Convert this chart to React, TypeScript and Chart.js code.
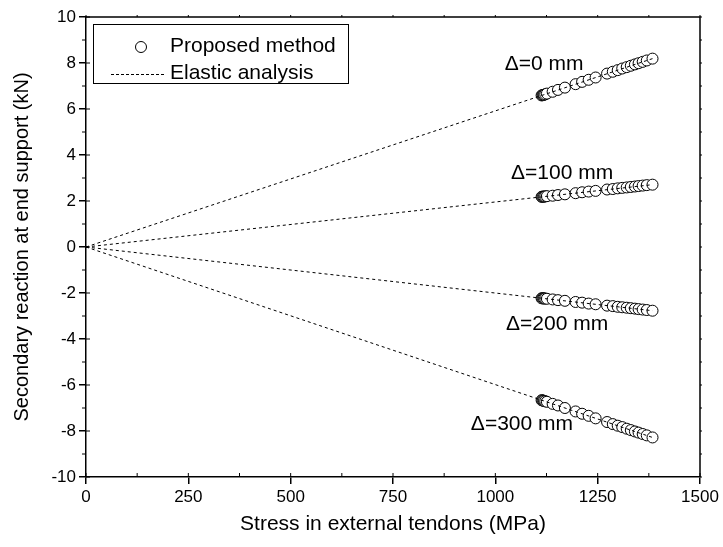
import { useEffect, useRef } from "react";
import { Chart, registerables } from "chart.js";

Chart.register(...registerables);

// Tendon stress levels (MPa) at which the secondary reaction was computed
const stress = [1113, 1115, 1117, 1119, 1122, 1126, 1140, 1153, 1170, 1196, 1212, 1228, 1245, 1273, 1287, 1299, 1310, 1321, 1331, 1341, 1350, 1360, 1370, 1384];

// Secondary reaction at end support (kN), proposed method, one array per settlement
const reactionD0 = [6.59, 6.6, 6.61, 6.62, 6.64, 6.67, 6.75, 6.83, 6.93, 7.08, 7.18, 7.27, 7.37, 7.54, 7.62, 7.69, 7.76, 7.82, 7.88, 7.94, 7.99, 8.05, 8.11, 8.19];
const reactionD100 = [2.18, 2.19, 2.19, 2.19, 2.2, 2.21, 2.23, 2.26, 2.29, 2.34, 2.38, 2.41, 2.44, 2.5, 2.52, 2.55, 2.57, 2.59, 2.61, 2.63, 2.65, 2.67, 2.69, 2.71];
const reactionD200 = [-2.23, -2.23, -2.23, -2.24, -2.24, -2.25, -2.28, -2.31, -2.34, -2.39, -2.42, -2.46, -2.49, -2.55, -2.57, -2.6, -2.62, -2.64, -2.66, -2.68, -2.7, -2.72, -2.74, -2.77];
const reactionD300 = [-6.66, -6.67, -6.68, -6.69, -6.71, -6.73, -6.82, -6.89, -7.0, -7.15, -7.25, -7.34, -7.45, -7.61, -7.7, -7.77, -7.83, -7.9, -7.96, -8.02, -8.07, -8.13, -8.19, -8.28];

// Elastic analysis: straight lines from the origin to the end stress
const elasticStress = [0, 1384];
const elasticD0 = [0, 8.19];
const elasticD100 = [0, 2.71];
const elasticD200 = [0, -2.77];
const elasticD300 = [0, -8.28];

// Settlement labels and their anchor (data coordinates)
const deltaLabels = ["\u0394=0 mm", "\u0394=100 mm", "\u0394=200 mm", "\u0394=300 mm"];
const deltaLabelX = [1119, 1163, 1151, 1065];
const deltaLabelY = [7.96, 3.2, -3.35, -7.7];

const legendLabels = ["Proposed method", "Elastic analysis"];

const xTicks = [0, 250, 500, 750, 1000, 1250, 1500];
const yTicks = [-10, -8, -6, -4, -2, 0, 2, 4, 6, 8, 10];

const FONT = "'Liberation Sans', Arial, sans-serif";

const toPoints = (xs: number[], ys: number[]) => xs.map((x, i) => ({ x, y: ys[i] }));

const overlayPlugin = {
  id: "overlay",
  afterDraw(chart: any) {
    const { ctx, chartArea: a, scales } = chart;
    const xs = scales.x;
    const ys = scales.y;
    ctx.save();
    ctx.strokeStyle = "#000";
    ctx.fillStyle = "#000";

    // frame: top and right edges
    ctx.lineWidth = 1.5;
    ctx.beginPath();
    ctx.moveTo(a.left, a.top);
    ctx.lineTo(a.right, a.top);
    ctx.lineTo(a.right, a.bottom);
    ctx.stroke();

    // inner part of the major ticks, minor ticks, and small ticks on the top/right edges
    ctx.lineWidth = 1;
    ctx.beginPath();
    yTicks.forEach((v) => {
      const py = ys.getPixelForValue(v);
      ctx.moveTo(a.left, py);
      ctx.lineTo(a.left + 4, py);
      ctx.moveTo(a.right, py);
      ctx.lineTo(a.right + 2, py);
    });
    xTicks.forEach((v) => {
      const px = xs.getPixelForValue(v);
      ctx.moveTo(px, a.bottom);
      ctx.lineTo(px, a.bottom - 4);
      ctx.moveTo(px, a.top);
      ctx.lineTo(px, a.top - 2);
    });
    for (let i = 0; i < yTicks.length - 1; i++) {
      const py = ys.getPixelForValue((yTicks[i] + yTicks[i + 1]) / 2);
      ctx.moveTo(a.left - 4, py);
      ctx.lineTo(a.left, py);
      ctx.moveTo(a.right, py);
      ctx.lineTo(a.right + 2, py);
    }
    for (let i = 0; i < xTicks.length - 1; i++) {
      const px = xs.getPixelForValue((xTicks[i] + xTicks[i + 1]) / 2);
      ctx.moveTo(px, a.bottom);
      ctx.lineTo(px, a.bottom - 4);
      ctx.moveTo(px, a.top);
      ctx.lineTo(px, a.top - 2);
    }
    ctx.stroke();

    // settlement labels
    ctx.font = `21px ${FONT}`;
    ctx.textAlign = "center";
    ctx.textBaseline = "middle";
    deltaLabels.forEach((t, i) => {
      ctx.fillText(t, xs.getPixelForValue(deltaLabelX[i]), ys.getPixelForValue(deltaLabelY[i]));
    });

    // legend box
    const bx = 93, by = 24, bw = 255, bh = 59;
    ctx.fillStyle = "#fff";
    ctx.fillRect(bx, by, bw, bh);
    ctx.lineWidth = 1;
    ctx.strokeRect(bx + 0.5, by + 0.5, bw, bh);
    ctx.fillStyle = "#000";
    ctx.beginPath();
    ctx.arc(141, 47, 5.5, 0, Math.PI * 2);
    ctx.stroke();
    ctx.setLineDash([3, 2]);
    ctx.beginPath();
    ctx.moveTo(111, 74.5);
    ctx.lineTo(164, 74.5);
    ctx.stroke();
    ctx.setLineDash([]);
    ctx.font = `21px ${FONT}`;
    ctx.textAlign = "left";
    ctx.fillText(legendLabels[0], 170, 46);
    ctx.fillText(legendLabels[1], 170, 73);
    ctx.restore();
  },
};

export default function App() {
  const ref = useRef<HTMLCanvasElement>(null);

  useEffect(() => {
    if (!ref.current) return;
    const pointSet = (ys: number[]) => ({
      data: toPoints(stress, ys),
      showLine: false,
      pointRadius: 5.5,
      pointBorderWidth: 1,
      pointBorderColor: "#000",
      pointBackgroundColor: "#fff",
      order: 2,
    });
    const lineSet = (ys: number[]) => ({
      data: toPoints(elasticStress, ys),
      showLine: true,
      borderColor: "#000",
      borderWidth: 1,
      borderDash: [3, 3],
      pointRadius: 0,
      fill: false,
      order: 1,
    });
    const chart = new Chart(ref.current, {
      type: "scatter",
      data: {
        datasets: [
          pointSet(reactionD0),
          pointSet(reactionD100),
          pointSet(reactionD200),
          pointSet(reactionD300),
          lineSet(elasticD0),
          lineSet(elasticD100),
          lineSet(elasticD200),
          lineSet(elasticD300),
        ] as any,
      },
      options: {
        animation: false,
        responsive: false,
        devicePixelRatio: 1,
        layout: { padding: { left: 0, right: 23, top: 17, bottom: 0 } },
        plugins: { legend: { display: false }, tooltip: { enabled: false } },
        scales: {
          x: {
            type: "linear",
            min: 0,
            max: 1500,
            afterBuildTicks: (s: any) => {
              s.ticks = xTicks.map((v) => ({ value: v }));
            },
            afterFit: (s: any) => {
              s.height = 70;
            },
            ticks: {
              color: "#000",
              font: { family: FONT, size: 17 },
              padding: 3,
              maxRotation: 0,
              callback: (v: any) => String(v),
            },
            grid: { drawOnChartArea: false, drawTicks: true, tickLength: 7, color: "#000", lineWidth: 1.5 },
            border: { display: true, color: "#000", width: 1.5 },
            title: {
              display: true,
              text: "Stress in external tendons (MPa)",
              color: "#000",
              font: { family: FONT, size: 21 },
              padding: { top: 4, bottom: 10 },
            },
          },
          y: {
            type: "linear",
            min: -10,
            max: 10,
            afterBuildTicks: (s: any) => {
              s.ticks = yTicks.map((v) => ({ value: v }));
            },
            afterFit: (s: any) => {
              s.width = 86;
            },
            ticks: { color: "#000", font: { family: FONT, size: 17 }, padding: 3, callback: (v: any) => String(v) },
            grid: { drawOnChartArea: false, drawTicks: true, tickLength: 7, color: "#000", lineWidth: 1.5 },
            border: { display: true, color: "#000", width: 1.5 },
            title: {
              display: true,
              text: "Secondary reaction at end support (kN)",
              color: "#000",
              font: { family: FONT, size: 20 },
              padding: { top: 10, bottom: 4 },
            },
          },
        },
      },
      plugins: [overlayPlugin],
    });
    return () => chart.destroy();
  }, []);

  return (
    <div style={{ position: "absolute", left: 0, top: 0, width: 723, height: 547, background: "#fff" }}>
      <canvas ref={ref} width={723} height={547} />
    </div>
  );
}
